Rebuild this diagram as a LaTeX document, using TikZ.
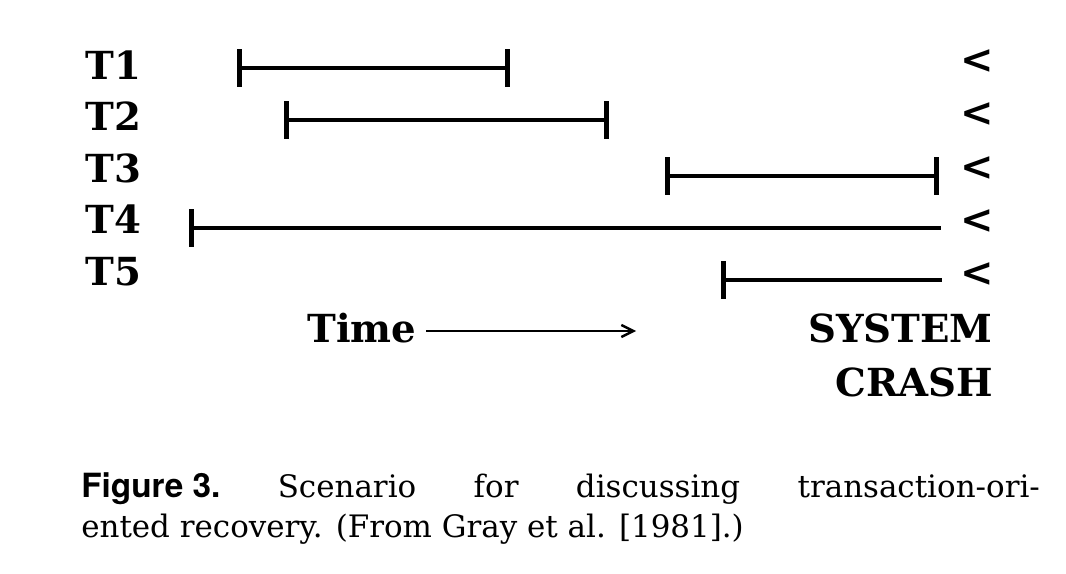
\documentclass[tikz,border=0pt]{standalone}
\usepackage{fontspec}
\setmainfont{DejaVu Serif}
\newfontfamily\figfont{TeX Gyre Heros}
\usetikzlibrary{arrows.meta}
\begin{document}
\begin{tikzpicture}[x=0.75pt,y=-0.75pt,
  lab/.style={inner sep=0pt,anchor=base west,font=\fontsize{29}{36}\selectfont\bfseries},
  crash/.style={inner sep=0pt,anchor=base east,font=\fontsize{29}{36}\selectfont\bfseries},
  lt/.style={inner sep=0pt,font=\fontsize{30}{36}\selectfont\bfseries},
  bar/.style={line width=3pt,{Bar[width=28pt,line width=3.8pt]}-{Bar[width=28pt,line width=3.8pt]}},
  openbar/.style={line width=3pt,{Bar[width=28pt,line width=3.8pt]}-},
  timearrow/.style={line width=2pt,-{Straight Barb[length=9pt,width=9pt,line width=1.8pt]}},
  captext/.style={inner sep=0pt,anchor=base west,font=\fontsize{23.2}{28}\selectfont}]
\useasboundingbox (0,0) rectangle (1066,574);
% labels
\node[lab] (t1) at (85,80) {T1};
\node[lab] (t2) at (85,131) {T2};
\node[lab] (t3) at (85,182) {T3};
\node[lab] (t4) at (85,233) {T4};
\node[lab] (t5) at (85,285) {T5};
% crash markers
\node[lt] (c1) at (977,62) {<};
\node[lt] (c2) at (977,115) {<};
\node[lt] (c3) at (977,169) {<};
\node[lt] (c4) at (977,222) {<};
\node[lt] (c5) at (977,275) {<};
% bar endpoints
\coordinate (a1) at (237,68); \coordinate (b1) at (510,68);
\coordinate (a2) at (284,120); \coordinate (b2) at (609,120);
\coordinate (a3) at (665,176); \coordinate (b3) at (939,176);
\coordinate (a4) at (189,228); \coordinate (b4) at (941,228);
\coordinate (a5) at (721,280); \coordinate (b5) at (942,280);
\draw[bar] (a1) -- (b1);
\draw[bar] (a2) -- (b2);
\draw[bar] (a3) -- (b3);
\draw[openbar] (a4) -- (b4);
\draw[openbar] (a5) -- (b5);
% time
\node[lab] (time) at (307,342) {Time};
\coordinate (ta) at (426,331);
\coordinate (tb) at (636,331);
\draw[timearrow] (ta) -- (tb);
\node[crash] (sys) at (993,342) {SYSTEM};
\node[crash] (crash) at (993,396) {CRASH};
% caption
\node[captext] (cap1) at (81,497) {\hbox to 719pt{{\figfont\bfseries\fontsize{25}{28}\selectfont Figure 3.}\hfill Scenario\hfill for\hfill discussing\hfill transaction-ori-}};
\node[captext] (cap2) at (81,537) {ented recovery. (From Gray et al. [1981].)};
\end{tikzpicture}
\end{document}
